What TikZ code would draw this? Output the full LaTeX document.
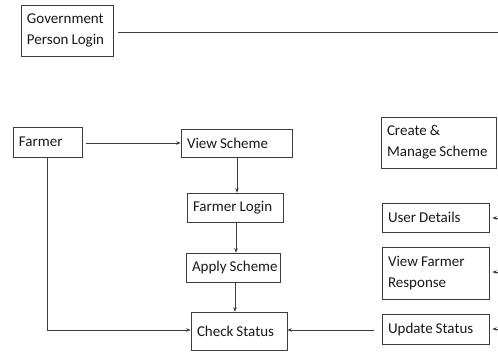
\documentclass[tikz,border=0pt]{standalone}
\usepackage{fontspec}
\setmainfont{Carlito}
\usetikzlibrary{arrows.meta}
\definecolor{edge}{RGB}{60,60,60}
\definecolor{ink}{RGB}{25,25,25}
\begin{document}
\begin{tikzpicture}[x=1pt,y=-1pt,
  box/.style={draw=edge, line width=0.7pt, rectangle, inner xsep=6pt, inner ysep=0pt,
    align=left, text=ink, font=\fontsize{15}{21}\selectfont, anchor=center,
    execute at begin node={\spaceskip=0.2em\relax}},
  conn/.style={draw=edge, line width=0.6pt},
  arr/.style={conn, -{Stealth[length=4.5pt,width=3.5pt]}}]
\useasboundingbox (0,0) rectangle (498,351);
\fill[white] (0,0) rectangle (498,351);
% nodes
\node[box, text width=80pt, minimum height=51pt] (gov) at (67,30.5) {\mbox{Government}\\\mbox{Person Login}};
\node[box, text width=57pt, minimum height=30pt] (farmer) at (47.5,142) {Farmer};
\node[box, text width=99pt, minimum height=28pt] (view) at (236.5,143) {\mbox{View Scheme}};
\node[box, text width=84pt, minimum height=29pt] (login) at (235,207.5) {\mbox{Farmer Login}};
\node[box, text width=82pt, minimum height=29pt] (apply) at (233,267.5) {\mbox{Apply Scheme}};
\node[box, text width=84pt, minimum height=38pt] (check) at (239,331) {\mbox{Check Status}};
\node[box, text width=103pt, minimum height=51pt] (create) at (438.5,142.5) {\mbox{Create \&}\\\mbox{Manage Scheme}};
\node[box, text width=95pt, minimum height=29pt] (user) at (435.5,217.5) {\mbox{User Details}};
\node[box, text width=95pt, minimum height=52pt] (vfr) at (435.5,273) {\mbox{View Farmer}\\\mbox{Response}};
\node[box, text width=95pt, minimum height=30pt] (update) at (435.5,329) {\mbox{Update Status}};
% free ends at the right border
\coordinate (gR) at (498,32);
\coordinate (uR) at (498,218);
\coordinate (vR) at (498,272);
\coordinate (pR) at (498,329);
\coordinate (bend) at (47,330);
% connectors
\draw[conn, shorten <=5pt] (gov.east |- gR) -- (gR);
\draw[arr, shorten <=4pt] (farmer.east |- 0,143) -- (view.west |- 0,143);
\draw[arr] (view.south -| 237,0) -- (login.north -| 237,0);
\draw[arr] (login.south -| 236,0) -- (apply.north -| 236,0);
\draw[arr] (apply.south -| 235,0) -- (check.north -| 235,0);
\draw[arr] (farmer.south -| bend) -- (bend) -- (check.west |- bend);
\draw[arr, shorten <=8pt] (update.west |- bend) -- (check.east |- bend);
\draw[arr, shorten >=3pt] (uR) -- (user.east |- uR);
\draw[arr, shorten >=3pt] (vR) -- (vfr.east |- vR);
\draw[arr, shorten >=3pt] (pR) -- (update.east |- pR);
\end{tikzpicture}
\end{document}
